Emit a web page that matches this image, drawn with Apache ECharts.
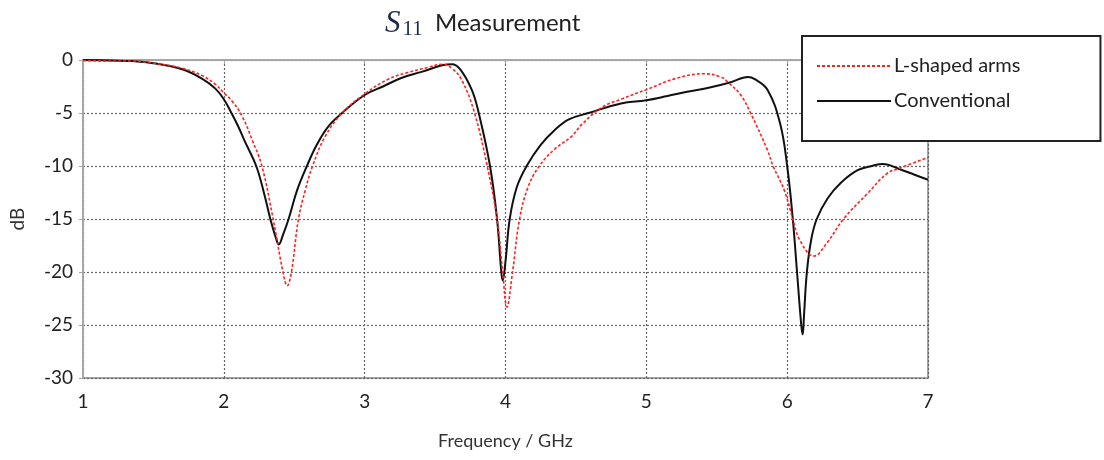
<!DOCTYPE html>
<html>
<head>
<meta charset="utf-8">
<script src="https://cdn.jsdelivr.net/npm/echarts@6/dist/echarts.min.js"></script>
<style>html,body{margin:0;padding:0;background:#fff}#c{width:1104px;height:460px}</style>
</head>
<body>
<div id="c"></div>
<script>
const xTicks = [1, 2, 3, 4, 5, 6, 7];
const yTicks = [0, -5, -10, -15, -20, -25, -30];

const freqConv = [1.0,1.2,1.35,1.5,1.71,1.85,1.94,2.0,2.05,2.1,2.15,2.23,2.29,2.33,2.37,2.39,2.42,2.46,2.52,2.59,2.66,2.74,2.84,3.0,3.13,3.26,3.41,3.55,3.62,3.68,3.76,3.81,3.89,3.94,3.97,3.98,4.0,4.03,4.08,4.15,4.25,4.35,4.45,4.59,4.82,5.0,5.15,5.29,5.45,5.6,5.72,5.77,5.86,5.95,6.0,6.04,6.07,6.1,6.11,6.12,6.14,6.17,6.21,6.29,6.38,6.5,6.6,6.68,6.8,6.9,7.0];
const dbConv = [0,-0.05,-0.1,-0.3,-0.9,-1.8,-2.7,-3.7,-4.9,-6.2,-7.7,-10,-12.8,-15,-16.8,-17.4,-16.5,-15,-12.3,-10,-8.0,-6.3,-5.0,-3.3,-2.5,-1.7,-1.1,-0.5,-0.4,-0.9,-2.8,-5,-10,-15,-20,-20.8,-19,-15,-12,-10,-8,-6.6,-5.6,-5.0,-4.1,-3.8,-3.4,-3.0,-2.6,-2.1,-1.6,-1.8,-2.8,-6,-10,-15,-20,-25,-25.9,-24,-20,-17,-15,-13,-11.6,-10.4,-10.0,-9.8,-10.3,-10.8,-11.3];

const freqL = [1.0,1.2,1.35,1.5,1.71,1.85,1.94,2.0,2.06,2.13,2.2,2.27,2.35,2.42,2.45,2.48,2.53,2.58,2.63,2.72,2.84,3.0,3.17,3.3,3.45,3.55,3.62,3.69,3.78,3.87,3.94,3.98,4.01,4.05,4.1,4.16,4.24,4.35,4.47,4.54,4.68,4.82,5.0,5.22,5.41,5.53,5.58,5.67,5.74,5.86,5.9,5.98,6.04,6.09,6.19,6.28,6.4,6.57,6.71,6.8,7.0];
const dbL = [-0.05,-0.1,-0.1,-0.3,-0.8,-1.5,-2.3,-3.1,-3.9,-5.3,-7.5,-10,-15,-20,-21.3,-20,-15,-12.2,-10,-7.2,-5,-3.2,-1.8,-1.2,-0.7,-0.4,-0.8,-1.9,-5,-10,-15,-20,-23.3,-20,-15,-12,-10,-8.4,-7.2,-6.1,-4.5,-3.7,-2.8,-1.7,-1.3,-1.6,-2.1,-3.3,-5,-8.5,-10,-12.3,-15,-17,-18.5,-17.3,-15,-12.6,-10.7,-10.2,-9.2];

const seriesNames = ['L-shaped arms', 'Conventional'];

const pairs = (xs, ys) => xs.map((x, i) => [x, ys[i]]);
const FONT = 'Lato';

const chart = echarts.init(document.getElementById('c'), null, {renderer: 'canvas'});
chart.setOption({
  animation: false,
  backgroundColor: '#fff',
  title: {
    text: '{s|S}{sub|11}{m|  Measurement}',
    left: 380, top: 2,
    textStyle: {
      fontWeight: 'normal',
      rich: {
        s: {fontFamily: 'Liberation Serif', fontStyle: 'italic', fontWeight: 'normal', fontSize: 31, color: '#1b2a44'},
        sub: {fontFamily: 'Liberation Serif', fontWeight: 'normal', fontSize: 21, color: '#1b2a44', padding: [12, 0, 0, 2]},
        m: {fontFamily: FONT, fontWeight: 'normal', fontSize: 24, color: '#222'}
      }
    }
  },
  legend: {
    data: seriesNames,
    orient: 'vertical',
    left: 802, top: 36,
    padding: [20, 80, 30, 14],
    itemWidth: 74, itemHeight: 12, itemGap: 15,
    backgroundColor: '#fff',
    borderColor: '#222', borderWidth: 2, borderRadius: 0,
    itemStyle: {opacity: 0},
    textStyle: {fontFamily: FONT, fontSize: 20, color: '#222', padding: [0, 0, 0, -2]}
  },
  grid: {
    left: 80, right: 176, top: 60, bottom: 82,
    show: true, borderColor: '#a6a6a6', borderWidth: 2, backgroundColor: 'transparent'
  },
  xAxis: {
    type: 'value', min: 1, max: 7, interval: 1,
    name: 'Frequency / GHz', nameLocation: 'middle', nameGap: 54,
    nameTextStyle: {fontFamily: FONT, fontSize: 18, color: '#333'},
    axisLine: {lineStyle: {color: '#a6a6a6', width: 2}},
    axisTick: {show: true, length: 4, lineStyle: {color: '#a6a6a6'}},
    axisLabel: {fontFamily: FONT, fontSize: 19, color: '#222', margin: 14},
    splitLine: {show: true, lineStyle: {color: '#666', type: [2, 2], width: 1.2}}
  },
  yAxis: {
    type: 'value', min: -30, max: 0, interval: 5,
    name: 'dB', nameLocation: 'middle', nameGap: 56,
    nameTextStyle: {fontFamily: FONT, fontSize: 19, color: '#333'},
    axisLine: {show: true, lineStyle: {color: '#a6a6a6', width: 2}},
    axisTick: {show: true, length: 4, lineStyle: {color: '#a6a6a6'}},
    axisLabel: {fontFamily: FONT, fontSize: 19, color: '#222', margin: 10},
    splitLine: {show: true, lineStyle: {color: '#666', type: [2, 2], width: 1.2}}
  },
  series: [
    {
      name: seriesNames[0], type: 'line', data: pairs(freqL, dbL),
      smooth: 0.4, symbol: 'none', z: 3,
      lineStyle: {color: '#ff2020', width: 1.6, type: [3, 2]},
      itemStyle: {color: '#ff2020'}
    },
    {
      name: seriesNames[1], type: 'line', data: pairs(freqConv, dbConv),
      smooth: 0.4, symbol: 'none', z: 2,
      lineStyle: {color: '#111', width: 2},
      itemStyle: {color: '#111'}
    }
  ]
});
</script>
</body>
</html>
